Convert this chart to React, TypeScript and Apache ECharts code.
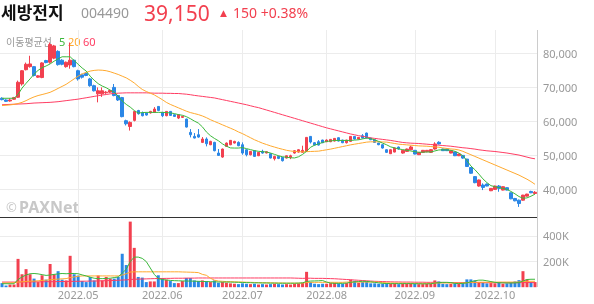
import React, { useEffect, useRef } from "react";
import * as echarts from "echarts";

// ---- data ----
const tradingDays: [string, number[]][] = [
  ["2022.04", [5, 6, 7, 8, 11, 12, 13, 14, 15, 18, 19, 20, 21, 22, 25, 26, 27, 28, 29]],
  ["2022.05", [2, 3, 4, 6, 9, 10, 11, 12, 13, 16, 17, 18, 19, 20, 23, 24, 25, 26, 27, 30, 31]],
  ["2022.06", [2, 3, 7, 8, 9, 10, 13, 14, 15, 16, 17, 20, 21, 22, 23, 24, 27, 28, 29, 30]],
  ["2022.07", [1, 4, 5, 6, 7, 8, 11, 12, 13, 14, 15, 18, 19, 20, 21, 22, 25, 26, 27, 28, 29]],
  ["2022.08", [1, 2, 3, 4, 5, 8, 9, 10, 11, 12, 16, 17, 18, 19, 22, 23, 24, 25, 26, 29, 30, 31]],
  ["2022.09", [1, 2, 5, 6, 7, 8, 13, 14, 15, 16, 19, 20, 21, 22, 23, 26, 27, 28, 29, 30]],
  ["2022.10", [4, 5, 6, 7, 11, 12, 13, 14, 17, 18, 19]],
];

// [open, close, low, high]
const candles: number[][] = [
  [66800, 66400, 66200, 67100], [66300, 65900, 65700, 66500], [66000, 66300, 65800, 66800], [66500, 67000, 66300, 67200], [67100, 71500, 66900, 72000],
  [71000, 74900, 70500, 75100], [75200, 76800, 75000, 77300], [76100, 76900, 75800, 79300], [76100, 73500, 73200, 76300], [73000, 73400, 72800, 73600],
  [72900, 77200, 72700, 77400], [77900, 77300, 77100, 78100], [77400, 82600, 77000, 83200], [78600, 82200, 78300, 82500], [80600, 76700, 76400, 80900],
  [78000, 76800, 76500, 78300], [76100, 77400, 75800, 77600], [76600, 78000, 75500, 83200], [78000, 76100, 75900, 78200], [74900, 72500, 72000, 75200],
  [73700, 73000, 72600, 74000], [74100, 73500, 73300, 74400], [72500, 70500, 70200, 72800], [70500, 69000, 68800, 70800], [68100, 69000, 65600, 70000],
  [68100, 69000, 67200, 70000], [68400, 68600, 68100, 68900], [68600, 69100, 68400, 69300], [70000, 67600, 67400, 71000], [67600, 66300, 66000, 67800],
  [67000, 61400, 61200, 67200], [60200, 59300, 58800, 60500], [58500, 59700, 57300, 60000], [60300, 62900, 60000, 63000], [63200, 62250, 62000, 63400],
  [62450, 61670, 61470, 62900], [62450, 61860, 61700, 62600], [62500, 62940, 62300, 63100], [62650, 63630, 62500, 64200], [64400, 63230, 63000, 64500],
  [62650, 61670, 61270, 62800], [61670, 62940, 61500, 63000], [62940, 61760, 61600, 63000], [61960, 61470, 61300, 62100], [60980, 61960, 60690, 62100],
  [61180, 61470, 61000, 61600], [60690, 58330, 58200, 60800], [56770, 56080, 55300, 57750], [55590, 55100, 55000, 56570], [56080, 55390, 55200, 57750],
  [53830, 54810, 53630, 55390], [54810, 53430, 52650, 55300], [53140, 54120, 53000, 54300], [53830, 51380, 51200, 54000], [50690, 50000, 49900, 51870],
  [49510, 51870, 49300, 52000], [52650, 53630, 52500, 53800], [53140, 54420, 53000, 54500], [53630, 54120, 53500, 54300], [53830, 52850, 52700, 54120],
  [53140, 50690, 50200, 53830], [51670, 50200, 49710, 51800], [50200, 51180, 50000, 51300], [51380, 49710, 49600, 51500], [49900, 50890, 49800, 51000],
  [51180, 50690, 50500, 51670], [50700, 51080, 50600, 51200], [50490, 49220, 49100, 50600], [49020, 49710, 48500, 49900], [49710, 49120, 48900, 49900],
  [49420, 48440, 48200, 49500], [49220, 49900, 49100, 50000], [49420, 49900, 48900, 50200], [50690, 51380, 50500, 51500], [50980, 51670, 50800, 51800],
  [50900, 51500, 50800, 52850], [51180, 55300, 51000, 55400], [55590, 53930, 53500, 55700], [53730, 53040, 52900, 53900], [54020, 53040, 52900, 54500],
  [54510, 53730, 53600, 54600], [54020, 54510, 53900, 54700], [54020, 54710, 53900, 54800], [54220, 55000, 54100, 55100], [55200, 54220, 54100, 55300],
  [54510, 53730, 53600, 54600], [53730, 54510, 53500, 54600], [54120, 55590, 54000, 55700], [55590, 54810, 54700, 55700], [54810, 55300, 54700, 55400],
  [55790, 55100, 55000, 56270], [56570, 55100, 55000, 56700], [55100, 54610, 54500, 55200], [54610, 53830, 53700, 54700], [53630, 53140, 53000, 53700],
  [53140, 52160, 52000, 53300], [51670, 50890, 50700, 51800], [50490, 51670, 50400, 51800], [50980, 52160, 50900, 52300], [52450, 51870, 51700, 52600],
  [50690, 51470, 50500, 51600], [51180, 51870, 51000, 52000], [51680, 52480, 51500, 52870], [51490, 50400, 50300, 51600], [50200, 50890, 50100, 51000],
  [50890, 51490, 50700, 51600], [51090, 51490, 50900, 51600], [50890, 51680, 50700, 51800], [51880, 53370, 51700, 53860], [53860, 53370, 53200, 54160],
  [51880, 51390, 51300, 52000], [51880, 51390, 51300, 52000], [50690, 51390, 50600, 51500], [50990, 49900, 49800, 51100], [49900, 50400, 49800, 50500],
  [50000, 49210, 49000, 50100], [48910, 46730, 46600, 49000], [46440, 44750, 44600, 46500], [43760, 41980, 41800, 43900], [40990, 42770, 40800, 42900],
  [41290, 40590, 39800, 41780], [41580, 40990, 40900, 41700], [39600, 40300, 39500, 40400], [40000, 40990, 39900, 41100], [40990, 40300, 39300, 41290],
  [39800, 40790, 39700, 40900], [40500, 39800, 39700, 40600], [39010, 37230, 37100, 39100], [37330, 36640, 36500, 37500], [36830, 35840, 34850, 37000],
  [36830, 38320, 36700, 38400], [38020, 38620, 37900, 38700], [39400, 39000, 38900, 39600], [38800, 39150, 38700, 39500],
];

const ma5 = [
  66800, 66800, 66800, 66800, 67900, 69800, 71200, 72500, 73900, 75000,
  75800, 76300, 76900, 77700, 78400, 79000, 79000, 79000, 77900, 76800,
  75700, 74800, 73300, 72100, 71100, 70400, 69900, 69200, 68600, 67400,
  66000, 65000, 64200, 63200, 62450, 62600, 62650, 62650, 62650, 62650,
  62650, 62600, 62500, 62300, 62000, 61800, 61400, 60800, 60100, 59500,
  58400, 56900, 55800, 55000, 54300, 53400, 52700, 52200, 52160, 52160,
  52300, 52000, 51700, 51400, 51200, 51100, 51000, 50700, 50300, 49900,
  49600, 49450, 49300, 49250, 49600, 50300, 51200, 52400, 53000, 53400,
  53800, 54100, 54250, 54400, 54400, 54400, 54400, 54400, 54500, 54600,
  54850, 55100, 54900, 54600, 54100, 53600, 53100, 52500, 52200, 51900,
  51700, 51500, 51300, 51100, 50900, 50950, 51000, 51000, 51300, 51600,
  51650, 51600, 51500, 51200, 50700, 49900, 48500, 46900, 45800, 44500,
  43100, 42000, 41100, 40800, 40500, 40300, 40000, 39400, 38700, 37900,
  37400, 37500, 38000, 38600,
];
const ma20 = [
  64650, 64750, 64850, 65000, 65250, 65600, 66100, 66700, 67200, 67600,
  67900, 68200, 68550, 69100, 69700, 70300, 70900, 71700, 72500, 73300,
  74000, 74400, 74800, 75000, 75100, 75050, 74900, 74600, 74200, 73800,
  73300, 72800, 72100, 71300, 70300, 69400, 68800, 68300, 67800, 67100,
  66400, 65600, 65000, 64500, 64000, 63500, 63000, 62600, 62300, 62000,
  61600, 61100, 60500, 60000, 59500, 59000, 58500, 58000, 57500, 56900,
  56400, 55800, 55200, 54600, 54100, 53600, 53200, 52800, 52450, 52100,
  51800, 51500, 51300, 51150, 51100, 51050, 51100, 51150, 51200, 51250,
  51450, 51650, 51850, 52100, 52350, 52600, 52850, 53100, 53300, 53500,
  53700, 53900, 54000, 54000, 54000, 53950, 53900, 53700, 53500, 53300,
  53200, 53100, 53000, 52900, 52800, 52750, 52700, 52600, 52500, 52400,
  52200, 52050, 51900, 51800, 51600, 51200, 50700, 50200, 49700, 49200,
  48700, 48200, 47700, 47200, 46700, 46200, 45700, 45200, 44700, 44200,
  43600, 43000, 42300, 41500,
];
const ma60 = [
  64900, 64950, 65000, 65050, 65100, 65150, 65200, 65300, 65400, 65450,
  65500, 65550, 65600, 65700, 65800, 65950, 66100, 66250, 66400, 66550,
  66750, 66950, 67150, 67350, 67550, 67750, 67900, 68100, 68200, 68300,
  68350, 68400, 68400, 68400, 68400, 68400, 68400, 68350, 68300, 68300,
  68300, 68250, 68250, 68200, 68200, 68100, 68000, 67850, 67650, 67500,
  67350, 67200, 67050, 66900, 66650, 66400, 66150, 65900, 65650, 65400,
  65150, 64900, 64600, 64300, 64050, 63700, 63350, 63000, 62650, 62300,
  61950, 61600, 61250, 60900, 60550, 60200, 59850, 59500, 59150, 58800,
  58450, 58100, 57800, 57500, 57200, 56900, 56600, 56300, 56050, 55800,
  55600, 55400, 55150, 55000, 54850, 54700, 54550, 54400, 54200, 54000,
  53800, 53700, 53600, 53550, 53500, 53400, 53300, 53200, 53100, 53000,
  52900, 52800, 52700, 52550, 52400, 52250, 52150, 52000, 51850, 51650,
  51500, 51350, 51250, 51150, 51000, 50850, 50700, 50500, 50300, 50100,
  49800, 49500, 49200, 49000,
];

// volume in thousands of shares
const volumes = [
  32, 13, 21, 21, 221, 101, 141, 101, 67, 40,
  93, 59, 181, 101, 125, 59, 53, 245, 101, 91,
  48, 40, 80, 53, 91, 53, 80, 67, 67, 80,
  261, 173, 512, 307, 80, 75, 40, 45, 45, 93,
  72, 59, 48, 32, 32, 48, 72, 72, 53, 48,
  53, 48, 40, 53, 35, 40, 35, 30, 27, 24,
  30, 27, 24, 27, 21, 24, 21, 24, 27, 24,
  21, 24, 21, 27, 30, 35, 120, 40, 27, 24,
  27, 27, 32, 35, 30, 27, 32, 59, 50, 35,
  40, 45, 30, 30, 27, 27, 32, 27, 30, 24,
  27, 27, 30, 27, 24, 24, 27, 27, 53, 45,
  27, 24, 27, 30, 27, 32, 61, 61, 53, 40,
  35, 30, 32, 30, 40, 27, 30, 35, 45, 55,
  125, 61, 40, 40,
];
const vma5 = [
  27, 27, 27, 27, 60, 80, 95, 105, 107, 104,
  98, 92, 95, 100, 104, 107, 105, 107, 107, 105,
  96, 88, 78, 70, 67, 67, 68, 70, 75, 80,
  110, 140, 200, 235, 235, 225, 200, 150, 100, 67,
  60, 56, 53, 51, 50, 49, 48, 48, 47, 46,
  45, 44, 43, 42, 41, 40, 40, 40, 39, 38,
  37, 36, 35, 34, 34, 33, 33, 32, 32, 31,
  31, 31, 31, 31, 32, 34, 45, 48, 49, 50,
  52, 40, 32, 30, 30, 30, 32, 38, 42, 44,
  46, 45, 42, 38, 34, 30, 29, 28, 28, 28,
  28, 28, 28, 27, 27, 26, 26, 27, 32, 36,
  38, 38, 36, 30, 28, 30, 34, 42, 50, 55,
  55, 50, 44, 38, 35, 34, 33, 33, 34, 36,
  48, 60, 62, 62,
];
const vma20 = [
  32, 33, 34, 35, 40, 42, 45, 47, 48, 50,
  53, 55, 58, 61, 63, 65, 67, 75, 80, 85,
  88, 88, 88, 88, 88, 88, 88, 88, 88, 88,
  95, 105, 118, 120, 120, 120, 120, 120, 120, 120,
  120, 120, 120, 120, 120, 119, 118, 117, 116, 114,
  100, 93, 70, 55, 48, 46, 44, 43, 42, 41,
  40, 39, 38, 37, 36, 35, 35, 34, 34, 33,
  33, 32, 32, 32, 32, 32, 37, 38, 38, 38,
  38, 38, 38, 38, 38, 38, 40, 40, 40, 40,
  40, 40, 40, 40, 40, 36, 34, 33, 33, 32,
  32, 31, 31, 30, 30, 30, 30, 30, 32, 33,
  33, 33, 33, 33, 33, 33, 35, 37, 38, 39,
  39, 39, 39, 39, 40, 40, 40, 40, 40, 41,
  45, 46, 46, 46,
];
const vma60 = [
  40, 40, 40, 40, 40, 41, 41, 41, 42, 42,
  42, 43, 43, 43, 44, 44, 45, 45, 46, 46,
  47, 47, 48, 48, 49, 50, 51, 52, 53, 54,
  56, 57, 60, 62, 63, 64, 65, 66, 67, 68,
  68, 69, 69, 70, 70, 70, 71, 71, 71, 72,
  72, 72, 72, 72, 72, 72, 72, 72, 72, 72,
  72, 72, 72, 72, 72, 72, 72, 72, 72, 72,
  72, 72, 72, 71, 70, 69, 70, 70, 69, 69,
  69, 68, 67, 66, 64, 62, 60, 58, 56, 54,
  52, 50, 48, 46, 45, 44, 43, 42, 41, 41,
  40, 40, 40, 39, 39, 39, 38, 38, 38, 38,
  37, 36, 36, 36, 36, 36, 36, 36, 36, 36,
  35, 35, 35, 35, 35, 35, 35, 35, 35, 35,
  36, 36, 36, 36,
];

const RED = "#f2404f";
const BLUE = "#2b87e6";
const GREEN = "#3cb83c";
const ORANGE = "#ffa92e";
const PINK = "#ff3d63";
const GRID = "#ececec";
const AXIS_TEXT = "#999999";

export default function App() {
  const ref = useRef<HTMLDivElement>(null);
  useEffect(() => {
    document.body.style.margin = "0";
    if (!ref.current) return;
    const chart = echarts.init(ref.current, undefined, { renderer: "svg" });

    const dates: string[] = [];
    const monthStarts = new Set<number>();
    tradingDays.forEach(([m, days], mi) => {
      days.forEach((d, di) => {
        if (di === 0 && mi > 0) monthStarts.add(dates.length);
        dates.push(m + "." + String(d).padStart(2, "0"));
      });
    });
    const isMonthStart = (idx: number) => monthStarts.has(idx);

    const volData = volumes.map((v, i) => ({
      value: v * 1000,
      itemStyle: { color: candles[i][1] >= candles[i][0] ? RED : BLUE },
    }));
    const k = (arr: number[]) => arr.map((v) => v * 1000);

    const lineSeries = (name: string, data: number[], color: string, axis: number) => ({
      name,
      type: "line",
      xAxisIndex: axis,
      yAxisIndex: axis,
      data,
      showSymbol: false,
      symbol: "none",
      silent: true,
      smooth: false,
      lineStyle: { width: 1, color },
      z: 3,
    });

    const textFont = "'Noto Sans CJK KR', 'Noto Sans', sans-serif";

    chart.setOption({
      animation: false,
      grid: [
        { left: 0, width: 537, top: 30, height: 187 },
        { left: 0, width: 537, top: 217, height: 70.2 },
      ],
      xAxis: [
        {
          type: "category",
          gridIndex: 0,
          data: dates,
          boundaryGap: true,
          axisLine: { show: false },
          axisTick: { show: false },
          axisLabel: { show: false },
          splitLine: { show: true, interval: isMonthStart, alignWithLabel: true, lineStyle: { color: GRID, width: 1 } },
        },
        {
          type: "category",
          gridIndex: 1,
          data: dates,
          boundaryGap: true,
          axisLine: { show: false },
          axisTick: { show: false },
          axisLabel: {
            show: true,
            interval: isMonthStart,
            formatter: (v: string) => v.slice(0, 7),
            color: AXIS_TEXT,
            fontSize: 11,
            fontFamily: "'Noto Sans', sans-serif",
            margin: 1,
            lineHeight: 12,
          },
          splitLine: { show: true, interval: isMonthStart, alignWithLabel: true, lineStyle: { color: GRID, width: 1 } },
        },
      ],
      yAxis: [
        {
          type: "value",
          gridIndex: 0,
          position: "right",
          min: 31883,
          max: 86880,
          minInterval: 10000,
          maxInterval: 10000,
          splitNumber: 5,
          axisLine: { show: false },
          axisTick: { show: false },
          axisLabel: {
            color: AXIS_TEXT,
            fontSize: 11,
            fontFamily: "'Noto Sans', sans-serif",
            margin: 6,
            showMinLabel: false,
            showMaxLabel: false,
            formatter: (v: number) => v.toLocaleString("en-US"),
          },
          splitLine: { show: true, showMinLine: false, showMaxLine: false, lineStyle: { color: GRID, width: 1 } },
        },
        {
          type: "value",
          gridIndex: 1,
          position: "right",
          min: 0,
          max: 548000,
          interval: 200000,
          axisLine: { show: false },
          axisTick: { show: false },
          axisLabel: {
            color: AXIS_TEXT,
            fontSize: 11,
            fontFamily: "'Noto Sans', sans-serif",
            margin: 6,
            showMinLabel: false,
            showMaxLabel: false,
            formatter: (v: number) => v / 1000 + "K",
          },
          splitLine: { show: true, showMinLine: false, showMaxLine: false, lineStyle: { color: GRID, width: 1 } },
        },
      ],
      series: [
        {
          name: "candle",
          type: "candlestick",
          xAxisIndex: 0,
          yAxisIndex: 0,
          data: candles,
          barWidth: 3,
          itemStyle: { color: RED, color0: BLUE, borderColor: RED, borderColor0: BLUE, borderWidth: 1 },
          z: 2,
        },
        lineSeries("MA60", ma60, PINK, 0),
        lineSeries("MA20", ma20, ORANGE, 0),
        lineSeries("MA5", ma5, GREEN, 0),
        {
          name: "volume",
          type: "bar",
          xAxisIndex: 1,
          yAxisIndex: 1,
          data: volData,
          barWidth: 3,
          z: 2,
        },
        lineSeries("VMA60", k(vma60), PINK, 1),
        lineSeries("VMA20", k(vma20), ORANGE, 1),
        lineSeries("VMA5", k(vma5), GREEN, 1),
      ],
      graphic: [
        { type: "text", x: 1, y: 11, style: { text: "세방전지", font: `bold 17px ${textFont}`, lineHeight: 18, fill: "#111111", textVerticalAlign: "middle" } },
        { type: "text", x: 81, y: 12.5, style: { text: "004490", font: `14px 'Noto Sans', sans-serif`, fill: "#999999", textVerticalAlign: "middle" } },
        { type: "text", x: 144, y: 12.5, style: { text: "39,150", font: `21px 'Noto Sans', sans-serif`, fill: RED, textVerticalAlign: "middle" } },
        { type: "text", x: 220, y: 12.5, style: { text: "▲", font: `9px 'DejaVu Sans', sans-serif`, fill: RED, textVerticalAlign: "middle" } },
        { type: "text", x: 233, y: 12.5, style: { text: "150 +0.38%", font: `14px 'Noto Sans', sans-serif`, fill: RED, textVerticalAlign: "middle" } },
        { type: "text", x: 6, y: 41, style: { text: "이동평균선", font: `10px ${textFont}`, fill: "#999999", textVerticalAlign: "middle" } },
        { type: "text", x: 59, y: 41, style: { text: "5", font: `11px 'Noto Sans', sans-serif`, fill: GREEN, textVerticalAlign: "middle" } },
        { type: "text", x: 68, y: 41, style: { text: "20", font: `11px 'Noto Sans', sans-serif`, fill: ORANGE, textVerticalAlign: "middle" } },
        { type: "text", x: 83, y: 41, style: { text: "60", font: `11px 'Noto Sans', sans-serif`, fill: PINK, textVerticalAlign: "middle" } },
        { type: "text", x: 6, y: 207, style: { text: "©", font: `13px 'Noto Sans', sans-serif`, fill: "#c8c8c8", textVerticalAlign: "middle" } },
        { type: "text", x: 19, y: 207, style: { text: "PAXNet", font: `bold 16px 'Noto Sans', sans-serif`, fill: "#c8c8c8", textVerticalAlign: "middle" } },
        { type: "line", shape: { x1: 0, y1: 217.5, x2: 537, y2: 217.5 }, style: { stroke: "#333333", lineWidth: 1 }, z: 10 },
        { type: "line", shape: { x1: 537.5, y1: 30, x2: 537.5, y2: 287 }, style: { stroke: "#cccccc", lineWidth: 1 }, z: 10 },
      ],
    });
    return () => chart.dispose();
  }, []);
  return <div ref={ref} style={{ position: "fixed", left: 0, top: 0, width: 594, height: 304 }} />;
}
